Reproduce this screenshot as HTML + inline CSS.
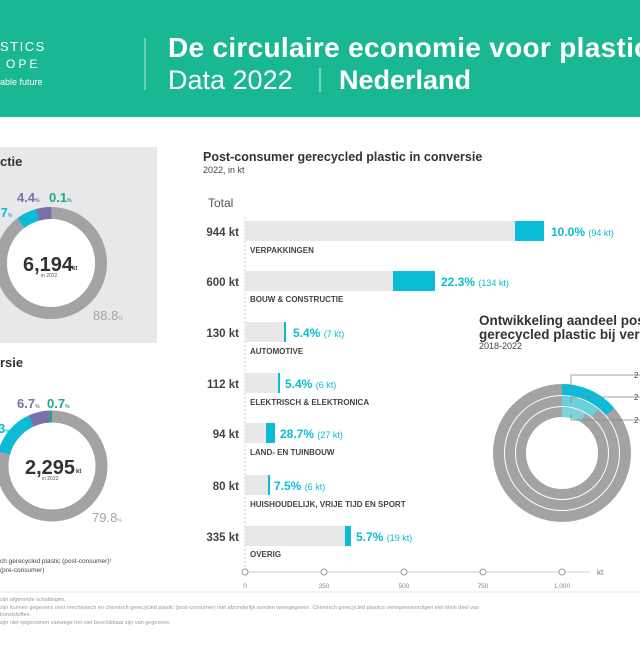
<!DOCTYPE html>
<html><head><meta charset="utf-8"><style>
body{margin:0;width:640px;height:640px;overflow:hidden;background:#fff;font-family:"Liberation Sans",sans-serif;}
</style></head><body>
<svg width="640" height="640" viewBox="0 0 640 640" xmlns="http://www.w3.org/2000/svg" font-family="Liberation Sans, sans-serif">
<rect x="0" y="0" width="640" height="117" fill="#19b893"/>
<text x="0" y="51" fill="#fff" font-size="13" letter-spacing="1.5">STICS</text>
<text x="6" y="68" fill="#fff" font-size="12" letter-spacing="3">OPE</text>
<text x="0" y="85" fill="#fff" font-size="9">able future</text>
<line x1="145" y1="38" x2="145" y2="90" stroke="#fff" stroke-opacity="0.7"/>
<text x="168" y="57" fill="#fff" font-size="28" font-weight="bold" letter-spacing="0.3">De circulaire economie voor plastic</text>
<text x="168" y="89" fill="#fff" font-size="27">Data 2022</text>
<line x1="320" y1="68" x2="320" y2="92" stroke="#fff" stroke-opacity="0.8"/>
<text x="339" y="89" fill="#fff" font-size="27" font-weight="bold">Nederland</text>

<rect x="0" y="147" width="157" height="196" fill="#e8e8ea"/>
<text x="0" y="166" font-size="13" font-weight="bold" fill="#333">ctie</text>
<circle cx="51" cy="263" r="50" fill="none" stroke="#a3a3a6" stroke-width="12"/>
<circle cx="51" cy="263" r="44" fill="#fff"/>
<g fill="none" stroke-width="12">
<path d="M51 213 A50 50 0 0 1 51.3 213" stroke="#1aa98a"/>
<path d="M37.5 214.9 A50 50 0 0 1 51 213" stroke="#7a70a8"/>
<path d="M21 223 A50 50 0 0 1 37.5 214.9" stroke="#0bbcd6"/>
</g>
<text x="23" y="271" font-size="20" font-weight="bold" fill="#333">6,194</text>
<text x="72" y="270" font-size="6" font-weight="bold" fill="#333">kt</text>
<text x="41" y="277" font-size="5" fill="#555">in 2022</text>
<text x="17" y="202" font-size="13" font-weight="bold" fill="#7a70a8">4.4<tspan font-size="5">%</tspan></text>
<text x="49" y="202" font-size="13" font-weight="bold" fill="#1aa98a">0.1<tspan font-size="5">%</tspan></text>
<text x="-3" y="217" font-size="13" font-weight="bold" fill="#0bbcd6">.7<tspan font-size="5">%</tspan></text>
<text x="93" y="320" font-size="13" fill="#a3a3a6">88.8<tspan font-size="5">%</tspan></text>

<text x="0" y="367" font-size="13" font-weight="bold" fill="#333">rsie</text>
<circle cx="52" cy="466" r="49.5" fill="none" stroke="#a3a3a6" stroke-width="12"/>
<g fill="none" stroke-width="12">
<path d="M49.8 416.5 A49.5 49.5 0 0 1 52 416.5" stroke="#1aa98a"/>
<path d="M31 421 A49.5 49.5 0 0 1 49.8 416.5" stroke="#7a70a8"/>
<path d="M4 453 A49.5 49.5 0 0 1 31 421" stroke="#0bbcd6"/>
</g>
<text x="25" y="474" font-size="20" font-weight="bold" fill="#333">2,295</text>
<text x="76" y="473" font-size="6" font-weight="bold" fill="#333">kt</text>
<text x="42" y="480" font-size="5" fill="#555">in 2022</text>
<text x="17" y="408" font-size="13" font-weight="bold" fill="#7a70a8">6.7<tspan font-size="5">%</tspan></text>
<text x="47" y="408" font-size="13" font-weight="bold" fill="#1aa98a">0.7<tspan font-size="5">%</tspan></text>
<text x="-2" y="433" font-size="13" font-weight="bold" fill="#0bbcd6">3<tspan font-size="5">%</tspan></text>
<text x="92" y="522" font-size="13" fill="#a3a3a6">79.8<tspan font-size="5">%</tspan></text>
<text x="0" y="563" font-size="6.5" fill="#444">ch gerecycled plastic (post-consumer)¹</text>
<text x="0" y="572" font-size="6.5" fill="#444"> (pre-consumer)</text>

<text x="203" y="161" font-size="12.5" font-weight="bold" fill="#333">Post-consumer gerecycled plastic in conversie</text>
<text x="203" y="173" font-size="9" fill="#444">2022, in kt</text>
<text x="208" y="207" font-size="12" fill="#555">Total</text>
<line x1="245" y1="217" x2="245" y2="572" stroke="#ccc" stroke-dasharray="2,2"/>
<g font-size="11.5" font-weight="bold" fill="#444" text-anchor="end">
<text x="239" y="236">944 kt</text><text x="239" y="286">600 kt</text><text x="239" y="337">130 kt</text>
<text x="239" y="388">112 kt</text><text x="239" y="438">94 kt</text><text x="239" y="490">80 kt</text><text x="239" y="541">335 kt</text>
</g>
<g fill="#e8e8e8">
<rect x="245" y="221" width="299" height="20"/><rect x="245" y="271" width="190" height="20"/>
<rect x="245" y="322" width="41" height="20"/><rect x="245" y="373" width="35" height="20"/>
<rect x="245" y="423" width="30" height="20"/><rect x="245" y="475" width="25" height="20"/>
<rect x="245" y="526" width="106" height="20"/>
</g>
<g fill="#0bbcd6">
<rect x="515" y="221" width="29" height="20"/><rect x="393" y="271" width="42" height="20"/>
<rect x="284" y="322" width="2" height="20"/><rect x="278" y="373" width="2" height="20"/>
<rect x="266" y="423" width="9" height="20"/><rect x="268" y="475" width="2" height="20"/>
<rect x="345" y="526" width="6" height="20"/>
</g>
<g font-size="12" font-weight="bold" fill="#0bbcd6">
<text x="551" y="236">10.0% <tspan font-weight="normal" font-size="9">(94 kt)</tspan></text>
<text x="441" y="286">22.3% <tspan font-weight="normal" font-size="9">(134 kt)</tspan></text>
<text x="293" y="337">5.4% <tspan font-weight="normal" font-size="9">(7 kt)</tspan></text>
<text x="285" y="388">5.4% <tspan font-weight="normal" font-size="9">(6 kt)</tspan></text>
<text x="280" y="438">28.7% <tspan font-weight="normal" font-size="9">(27 kt)</tspan></text>
<text x="274" y="490">7.5% <tspan font-weight="normal" font-size="9">(6 kt)</tspan></text>
<text x="356" y="541">5.7% <tspan font-weight="normal" font-size="9">(19 kt)</tspan></text>
</g>
<g font-size="8" font-weight="bold" fill="#444">
<text x="250" y="253">VERPAKKINGEN</text><text x="250" y="302">BOUW &amp; CONSTRUCTIE</text>
<text x="250" y="354">AUTOMOTIVE</text><text x="250" y="405">ELEKTRISCH &amp; ELEKTRONICA</text>
<text x="250" y="455">LAND- EN TUINBOUW</text><text x="250" y="507">HUISHOUDELIJK, VRIJE TIJD EN SPORT</text>
<text x="250" y="557">OVERIG</text>
</g>
<line x1="245" y1="572" x2="590" y2="572" stroke="#ccc"/>
<g fill="#fff" stroke="#999"><circle cx="245" cy="572" r="3"/><circle cx="324" cy="572" r="3"/><circle cx="404" cy="572" r="3"/><circle cx="483" cy="572" r="3"/><circle cx="562" cy="572" r="3"/></g>
<text x="597" y="575" font-size="8" fill="#777">kt</text>
<g font-size="6.5" fill="#888" text-anchor="middle"><text x="245" y="588">0</text><text x="324" y="588">250</text><text x="404" y="588">500</text><text x="483" y="588">750</text><text x="562" y="588">1,000</text></g>
<line x1="0" y1="592" x2="640" y2="592" stroke="#e5e5e5"/>
<g font-size="5.5" fill="#999">
<text x="0" y="601">zijn afgeronde schattingen.</text>
<text x="0" y="609">zijn kunnen gegevens over mechanisch en chemisch gerecycled plastic (post-consumer) niet afzonderlijk worden weergegeven. Chemisch gerecycled plastics vertegenwoordigen een klein deel van</text>
<text x="0" y="616">kunststoffen.</text>
<text x="0" y="624">zijn niet opgenomen vanwege het niet beschikbaar zijn van gegevens.</text>
</g>

<text x="479" y="325" font-size="13.5" font-weight="bold" fill="#333">Ontwikkeling aandeel post-</text>
<text x="479" y="339" font-size="13.5" font-weight="bold" fill="#333">gerecycled plastic bij verpakkingen</text>
<text x="479" y="349" font-size="9" fill="#444">2018-2022</text>
<g fill="none">
<circle cx="562" cy="453" r="63.5" stroke="#a3a3a6" stroke-width="11"/>
<circle cx="562" cy="453" r="52" stroke="#a3a3a6" stroke-width="10"/>
<circle cx="562" cy="453" r="41" stroke="#a3a3a6" stroke-width="10"/>
<path d="M562 389.5 A63.5 63.5 0 0 1 610 411.5" stroke="#0bbcd6" stroke-width="11"/>
<path d="M562 401 A52 52 0 0 1 595 413" stroke="#6ccfdc" stroke-width="10"/>
<path d="M562 412 A41 41 0 0 1 583 417.8" stroke="#7dd3dc" stroke-width="10"/>
</g>
<g stroke="#888" fill="none" stroke-width="0.8">
<polyline points="571,393 571,375 640,375"/>
<polyline points="571,403 571,397 640,397"/>
<polyline points="571,414 571,420 640,420"/>
</g>
<g font-size="8" fill="#444"><text x="634" y="378">2</text><text x="634" y="400">2</text><text x="634" y="423">2</text></g>
</svg>
</body></html>
